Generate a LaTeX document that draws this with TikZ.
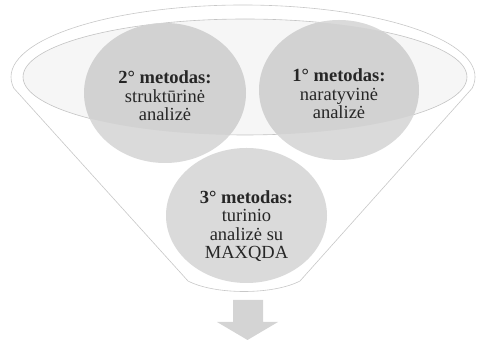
\documentclass[tikz,border=0pt]{standalone}
\usepackage{fontspec}
\setmainfont{Liberation Serif}
\usepackage{xcolor}
\usepackage{tikz}
\usetikzlibrary{shapes}
\usetikzlibrary{arrows.meta, positioning}

\definecolor{funnelline}{HTML}{C8C8C8}
\definecolor{methodfill}{HTML}{DADADA}
\definecolor{arrowfill}{HTML}{D4D4D4}

\begin{document}
\begin{tikzpicture}[x=1pt, y=1pt,
    funnel/.style = {draw=funnelline, line width=0.6pt, fill=white},
    method/.style = {ellipse, fill=methodfill, inner sep=0pt},
    methodtext/.style = {align=center, font=\fontsize{18.5}{18.5}\selectfont, text=black!85}]
    \useasboundingbox (0,0) rectangle (477,342);
    \draw [funnel] (13.86,253.74) -- (188,61) .. controls (215,47) and (273,47) .. (300,61)
        -- (472.14,253.74) arc[start angle=-9, end angle=189, x radius=232, y radius=72] -- cycle;
    \draw [funnelline, line width=0.6pt] (245,265) ellipse [x radius=222, y radius=58];
    \node (m2) [method, minimum width=162, minimum height=140] at (165,249) {};
    \node (m1) [method, minimum width=160, minimum height=140] at (339,252) {};
    \node (m3) [method, minimum width=161, minimum height=135] at (246.5,126.5) {};
    \fill [black, opacity=0.035] (245,265) ellipse [x radius=222, y radius=58];
    \node (t2) [methodtext] at (165,246) {\textbf{2° metodas:}\\struktūrinė\\analizė};
    \node (t1) [methodtext] at (339,248) {\textbf{1° metodas:}\\naratyvinė\\analizė};
    \node (t3) [methodtext] at (246.5,116) {\textbf{3° metodas:}\\turinio\\analizė su\\MAXQDA};
    \fill [arrowfill] (233,42) -- (263,42) -- (263,20) -- (278,20) -- (247.5,2)
        -- (217,20) -- (233,20) -- cycle;
\end{tikzpicture}
\end{document}
